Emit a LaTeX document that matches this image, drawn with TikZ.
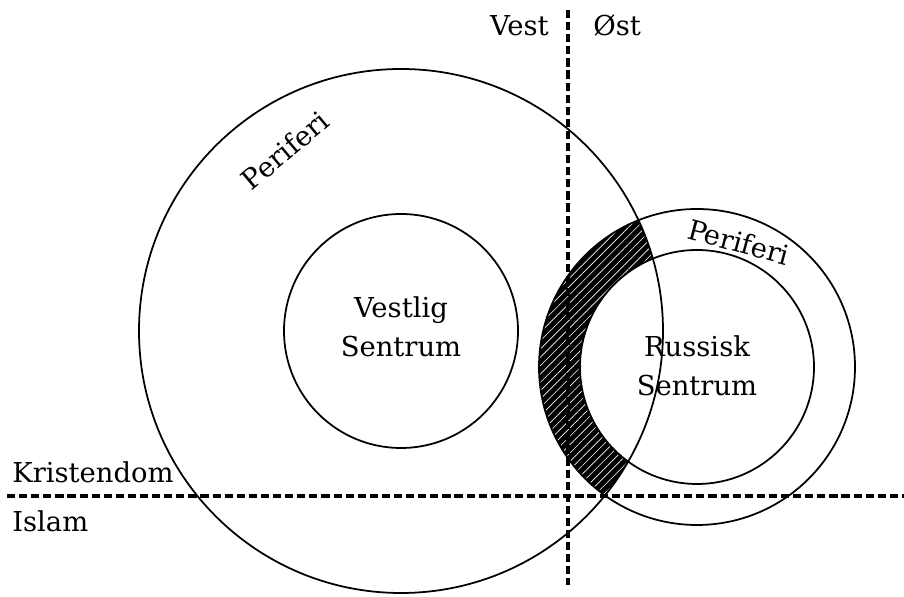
\documentclass[tikz,border=0pt]{standalone}
\usepackage{fontspec}
\setmainfont{DejaVu Serif}
\usetikzlibrary{patterns.meta}

\begin{document}
\begin{tikzpicture}[x=0.025cm,y=0.025cm,
    ring/.style={draw,line width=1.25pt},
    divider/.style={line width=2.2pt,dash pattern=on 5.8pt off 2.8pt},
    lbl/.style={font=\fontsize{19.5}{27.6}\selectfont,inner sep=0pt},
    hatch/.style={pattern={Lines[angle=45,distance=4.2pt,line width=0.45pt]},
                  pattern color=white},
  ]
    \useasboundingbox (0,0) rectangle (904,597);
    \coordinate (wc) at (401,266);
    \coordinate (ec) at (697,230);
    % overlap of the eastern periphery with the western one
    \begin{scope}
      \clip (wc) circle[radius=262];
      \fill[black,even odd rule] (ec) circle[radius=158] (ec) circle[radius=117];
      \path[hatch,even odd rule] (ec) circle[radius=158] (ec) circle[radius=117];
    \end{scope}
    \draw[ring] (wc) circle[radius=262];
    \draw[ring] (wc) circle[radius=117];
    \draw[ring] (ec) circle[radius=158];
    \draw[ring] (ec) circle[radius=117];
    % dividers
    \coordinate (vtop) at (568,587);
    \coordinate (vbot) at (568,12);
    \coordinate (hleft) at (7,101);
    \coordinate (hright) at (904,101);
    \draw[divider] (vtop) -- (vbot);
    \draw[divider] (hleft) -- (hright);
    \node[lbl,anchor=base east] (vest) at (549,561) {Vest};
    \node[lbl,anchor=base west] (ost) at (593,561) {Øst};
    \node[lbl,anchor=base west] (krist) at (12,114) {Kristendom};
    \node[lbl,anchor=base west] (islam) at (12,65) {Islam};
    \node[lbl,align=center] (vsent) at (401,270) {Vestlig\\Sentrum};
    \node[lbl,align=center] (rsent) at (697,231) {Russisk\\Sentrum};
    \node[lbl,rotate=40] (perw) at (285,447) {Periferi};
    \node[lbl,rotate=-15] (pere) at (739,355) {Periferi};
\end{tikzpicture}
\end{document}
